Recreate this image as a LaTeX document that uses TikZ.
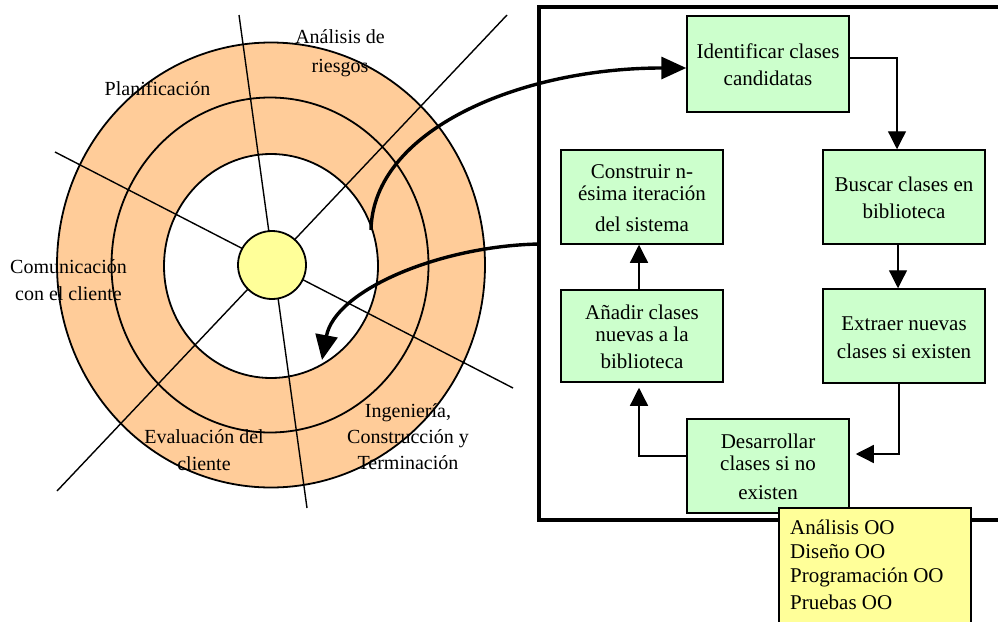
\documentclass[tikz,border=0pt]{standalone}
\usepackage{fontspec}
\setmainfont{Liberation Serif}
\usetikzlibrary{arrows.meta,calc}

\definecolor{ringorange}{HTML}{FFCC99}
\definecolor{hubyellow}{HTML}{FFFF99}
\definecolor{stepgreen}{HTML}{CCFFCC}
\definecolor{notebox}{HTML}{FFFF99}

% stacked lines whose baseline is the first line
\newcommand{\stack}[2][c]{\begin{tabular}[t]{@{}#1@{}}#2\end{tabular}}
% box text, sitting a little lower than the box centre
\newcommand{\boxlines}[1]{\begin{tabular}[t]{@{}c@{}}#1\\[-8pt]\end{tabular}}

\begin{document}
\begin{tikzpicture}[x=1pt,y=-1pt,
  txt/.style={font=\fontsize{20}{27}\selectfont, inner sep=0pt, anchor=base},
  stepbox/.style={draw, line width=1.5pt, fill=stepgreen, minimum width=162pt,
    minimum height=94pt, inner sep=0pt, font=\fontsize{21}{22}\selectfont},
  ring/.style={draw, line width=1.8pt},
  spoke/.style={line width=1.4pt},
  flow/.style={line width=1.3pt, -{Triangle[length=18pt,width=18pt]}},
  bigarrow/.style={line width=3.4pt, -{Triangle[length=25pt,width=22pt]}},
]
\useasboundingbox (0,0) rectangle (998,621);
\clip (0,0) rectangle (998,621);

% ---- spiral model ----
\filldraw[fill=ringorange, ring] (271,265) ellipse [x radius=214, y radius=222.5];
\draw[ring] (270,265) ellipse [x radius=158.5, y radius=167.5];
\filldraw[fill=white, ring] (271,266) ellipse [x radius=107, y radius=112];

\draw[spoke] (239,15) -- (307,508);
\draw[spoke] (507,15) -- (57,491);
\draw[spoke] (55,152) -- (513,388);

\node[circle, draw, line width=1.8pt, fill=hubyellow, minimum size=68pt, inner sep=0pt] (hub) at (272,265) {};

\node[txt] (plan) at (157.5,95) {Planificación};
\node[txt] (riesgo) at (340,43) {\stack{Análisis de\\[2pt]riesgos}};
\node[txt] (comun) at (68.5,273) {\stack{Comunicación\\con el cliente}};
\node[txt] (evalua) at (204,443) {\stack{Evaluación del\\cliente}};
\node[txt] (ingen) at (408,417) {\stack{Ingeniería,\\[-1pt]Construcción y\\[-1pt]Terminación}};

% ---- object oriented process ----
\draw[line width=3.5pt] (539,7) rectangle (1010,520);

\node[stepbox, minimum height=96pt] (ident) at (768,64) {\boxlines{Identificar clases\\[5pt]candidatas}};
\node[stepbox] (buscar) at (904,197) {\boxlines{Buscar clases en\\[5pt]biblioteca}};
\node[stepbox] (extraer) at (904,336) {\boxlines{Extraer nuevas\\[6pt]clases si existen}};
\node[stepbox] (desarr) at (768,466) {\boxlines{Desarrollar\\clases si no\\[7pt]existen}};
\node[stepbox, minimum height=92pt] (anadir) at (642,336) {\boxlines{Añadir clases\\nuevas a la\\[5pt]biblioteca}};
\node[stepbox] (constr) at (642,197) {\boxlines{Construir n-\\ésima iteración\\[9pt]del sistema}};

\draw[flow] ([yshift=6pt]ident.east) -| ([xshift=-7pt]buscar.north);
\draw[flow] ([xshift=-6pt]buscar.south) -- ([xshift=-6pt]extraer.north);
\draw[flow] ([xshift=-5pt]extraer.south) |- ([xshift=6pt,yshift=12pt]desarr.east);
\draw[flow] ([yshift=10pt]desarr.west) -| ([xshift=-3pt,yshift=-5pt]anadir.south);
\draw[flow] ([xshift=-3pt]anadir.north) -- ([xshift=-3pt]constr.south);

% ---- phases note ----
\node[draw, line width=1.5pt, fill=notebox, minimum width=192pt, minimum height=140pt,
  anchor=north west, inner sep=0pt] (oo) at (778,507) {};
\node[txt, anchor=base west, font=\fontsize{21}{24.5}\selectfont] (ootext) at (790,534)
  {\stack[l]{Análisis OO\\Diseño OO\\[-1pt]Programación OO\\[3pt]Pruebas OO}};

% ---- links between spiral and process ----
\coordinate (s1) at (371,230);
\coordinate (s2) at (539,244);
\coordinate (e2) at (322,360);
\draw[bigarrow] (s1) .. controls (373,130) and (520,68) .. ([yshift=-4pt]ident.west);
\draw[bigarrow] (s2) .. controls (440,246) and (335,290) .. (e2);
\end{tikzpicture}
\end{document}
